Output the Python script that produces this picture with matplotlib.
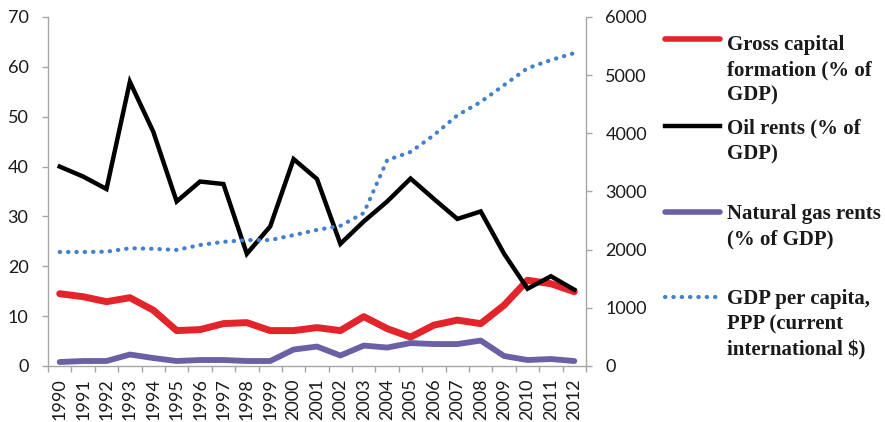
import matplotlib
matplotlib.use("Agg")
import matplotlib.pyplot as plt
from matplotlib.lines import Line2D
import numpy as np

years = [str(y) for y in range(1990, 2013)]
gross_capital = [14.5, 13.9, 12.9, 13.7, 11.2, 7.1, 7.3, 8.5, 8.7, 7.1, 7.1, 7.7,
                 7.1, 9.9, 7.5, 5.8, 8.2, 9.2, 8.5, 12.2, 17.2, 16.5, 14.9]
oil_rents = [40.0, 38.0, 35.5, 57.0, 47.0, 33.0, 37.0, 36.5, 22.5, 28.0, 41.5, 37.5,
             24.5, 29.0, 33.0, 37.6, 33.5, 29.5, 31.0, 22.5, 15.5, 18.0, 15.3]
gas_rents = [0.8, 1.0, 1.0, 2.3, 1.6, 1.0, 1.2, 1.2, 1.0, 1.0, 3.3, 3.9,
             2.1, 4.1, 3.7, 4.6, 4.4, 4.4, 5.1, 2.0, 1.2, 1.4, 1.0]
gdp_pc = [1960, 1960, 1965, 2025, 2015, 1995, 2080, 2135, 2165, 2165, 2250, 2340,
          2410, 2630, 3540, 3680, 3970, 4310, 4540, 4830, 5120, 5260, 5380]

labels = ["Gross capital\nformation (% of\nGDP)",
          "Oil rents (% of\nGDP)",
          "Natural gas rents\n(% of GDP)",
          "GDP per capita,\nPPP (current\ninternational $)"]

RED = "#E3242B"
BLACK = "#000000"
PURPLE = "#6B5FA5"
BLUE = "#4480CC"
GRAY = "#A6A6A6"
TXT = "#1A1A1A"

W, H = 885, 422
fig = plt.figure(figsize=(W / 100, H / 100), dpi=100)
ax = fig.add_axes([48 / W, 1 - 366 / H, (586 - 48) / W, (366 - 17) / H])
ax2 = ax.twinx()

x = np.arange(len(years))
styles = [
    dict(color=RED, lw=5.0, solid_capstyle="round", solid_joinstyle="round"),
    dict(color=BLACK, lw=3.2, solid_joinstyle="miter"),
    dict(color=PURPLE, lw=4.2, solid_capstyle="round", solid_joinstyle="round"),
    dict(color=BLUE, lw=3.0, linestyle=(0, (0.1, 1.9)), dash_capstyle="round"),
]
ax.plot(x, gross_capital, **styles[0])
ax.plot(x, oil_rents, **styles[1])
ax.plot(x, gas_rents, **styles[2])
ax2.plot(x, gdp_pc, **styles[3])

ax.set_xlim(-0.5, len(years) - 0.5)
ax.set_ylim(0, 70)
ax2.set_ylim(0, 6000)
ax.set_yticks(np.arange(0, 71, 10))
ax2.set_yticks(np.arange(0, 6001, 1000))
ax.set_xticks(x)
ax.set_xticklabels(years, rotation=90, va="top", ha="center")
ax.set_xticks(np.arange(-0.5, len(years), 1), minor=True)

for a in (ax, ax2):
    for s in a.spines.values():
        s.set_color(GRAY)
        s.set_linewidth(1.0)
    a.spines["top"].set_visible(False)
ax.spines["right"].set_visible(False)
ax2.spines["left"].set_visible(False)
ax2.spines["bottom"].set_visible(False)

ax.tick_params(axis="y", direction="out", length=4, width=1, color=GRAY,
               pad=10, labelcolor=TXT)
ax2.tick_params(axis="y", direction="out", length=4, width=1, color=GRAY,
                pad=10, labelcolor=TXT)
ax.tick_params(axis="x", which="major", length=0, pad=9, labelcolor=TXT)
ax.tick_params(axis="x", which="minor", direction="out", length=4.5, width=1, color=GRAY)
for lab in ax.get_xticklabels() + ax.get_yticklabels() + ax2.get_yticklabels():
    lab.set_fontfamily("Lato")
    lab.set_fontsize(13)

# legend (handles aligned with first text line)
handle_y = [39, 126, 212, 297]
block_c = [70, 141.5, 227, 324.7]
for st, lab, hy, bc in zip(styles, labels, handle_y, block_c):
    kw = dict(st)
    kw["lw"] = min(kw["lw"], 4.0)
    ln = Line2D([665 / W, 720 / W], [1 - hy / H, 1 - hy / H], transform=fig.transFigure, **kw)
    fig.add_artist(ln)
    fig.text(727 / W, 1 - bc / H, lab, family="Liberation Serif", weight="bold",
             size=15, color=TXT, va="center", ha="left", linespacing=1.36)

fig.savefig("out.png", dpi=100)
